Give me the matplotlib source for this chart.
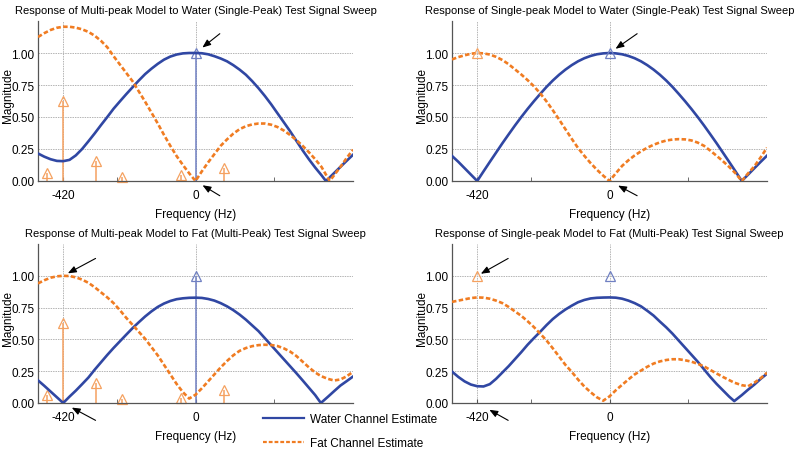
import matplotlib
matplotlib.use("Agg")
import matplotlib.pyplot as plt
from matplotlib.lines import Line2D

plt.rcParams['font.family'] = ['Liberation Sans', 'DejaVu Sans']

# ---------------- data ----------------
grid_hz = [-500, -480, -460, -440, -420, -400, -380, -360, -340, -320, -300, -280, -260, -240,
           -220, -200, -180, -160, -140, -120, -100, -80, -60, -40, -20, 0, 20, 40, 60, 80, 100,
           120, 140, 160, 180, 200, 220, 240, 260, 280, 300, 320, 340, 360, 380, 400, 420, 440,
           460, 480, 500]

# Panel 1: Multi-peak model, water test signal
p1_freq = [-500, -480, -460, -440, -420, -400, -380, -360, -340, -320, -300, -280, -260, -240,
           -220, -200, -180, -160, -140, -120, -100, -80, -60, -40, -20, 0, 20, 40, 60, 80, 100,
           120, 140, 160, 180, 200, 220, 240, 260, 280, 300, 320, 340, 360, 380, 400, 414, 420,
           426, 440, 460, 480, 500]
p1_water = [0.215, 0.19, 0.17, 0.157, 0.155, 0.165, 0.2, 0.25, 0.31, 0.372, 0.437, 0.5, 0.565,
            0.622, 0.678, 0.732, 0.785, 0.835, 0.877, 0.915, 0.948, 0.972, 0.988, 0.997, 1.0,
            1.0, 0.998, 0.99, 0.975, 0.957, 0.935, 0.905, 0.87, 0.83, 0.78, 0.725, 0.665, 0.6,
            0.53, 0.46, 0.39, 0.315, 0.24, 0.17, 0.105, 0.045, 0.0, 0.014, 0.028, 0.062, 0.11,
            0.158, 0.205]
p1_fat = [1.125, 1.155, 1.18, 1.197, 1.205, 1.205, 1.198, 1.185, 1.165, 1.135, 1.095, 1.045,
          0.975, 0.91, 0.845, 0.78, 0.70, 0.62, 0.535, 0.45, 0.36, 0.275, 0.195, 0.125, 0.06,
          0.0, 0.075, 0.145, 0.21, 0.275, 0.325, 0.37, 0.405, 0.428, 0.442, 0.449, 0.449, 0.44,
          0.422, 0.395, 0.36, 0.32, 0.275, 0.225, 0.17, 0.11, 0.05, 0.025, 0.0, 0.045, 0.11,
          0.18, 0.245]

# Panel 2: Single-peak model, water test signal
p2_freq = grid_hz
p2_water = [0.196, 0.15, 0.10, 0.05, 0.0, 0.075, 0.149, 0.222, 0.295, 0.365, 0.434, 0.5, 0.563,
            0.623, 0.68, 0.735, 0.785, 0.83, 0.87, 0.905, 0.935, 0.959, 0.977, 0.99, 0.997, 1.0,
            0.997, 0.99, 0.977, 0.959, 0.935, 0.905, 0.87, 0.83, 0.785, 0.735, 0.68, 0.623,
            0.563, 0.5, 0.434, 0.365, 0.295, 0.222, 0.149, 0.075, 0.0, 0.05, 0.10, 0.15, 0.198]
p2_fat = [0.95, 0.968, 0.982, 0.994, 1.0, 0.997, 0.988, 0.97, 0.945, 0.912, 0.872, 0.832, 0.788,
          0.74, 0.685, 0.622, 0.553, 0.48, 0.405, 0.33, 0.258, 0.197, 0.14, 0.088, 0.042, 0.0,
          0.06, 0.118, 0.162, 0.2, 0.232, 0.26, 0.283, 0.302, 0.316, 0.324, 0.327, 0.325, 0.317,
          0.30, 0.275, 0.237, 0.197, 0.155, 0.11, 0.06, 0.0, 0.06, 0.115, 0.185, 0.26]

# Panel 3: Multi-peak model, fat test signal
p3_freq = [-500, -480, -460, -440, -420, -400, -380, -360, -340, -320, -300, -280, -260, -240,
           -220, -200, -180, -160, -140, -120, -100, -80, -60, -40, -20, 0, 20, 40, 60, 80, 100,
           120, 140, 160, 180, 200, 220, 240, 260, 280, 300, 320, 340, 360, 380, 398, 420, 440,
           460, 480, 500]
p3_water = [0.178, 0.135, 0.09, 0.045, 0.0, 0.05, 0.097, 0.148, 0.2, 0.262, 0.32, 0.378, 0.433,
            0.485, 0.537, 0.588, 0.635, 0.68, 0.72, 0.755, 0.782, 0.802, 0.816, 0.823, 0.827,
            0.828, 0.826, 0.818, 0.805, 0.785, 0.76, 0.73, 0.695, 0.655, 0.61, 0.565, 0.51,
            0.455, 0.4, 0.345, 0.29, 0.235, 0.178, 0.12, 0.062, 0.0, 0.048, 0.093, 0.137, 0.172,
            0.208]
p3_fat = [0.94, 0.965, 0.985, 0.996, 1.0, 0.998, 0.988, 0.97, 0.945, 0.91, 0.87, 0.83, 0.785,
          0.73, 0.67, 0.615, 0.56, 0.505, 0.44, 0.375, 0.30, 0.225, 0.15, 0.085, 0.035, 0.065,
          0.115, 0.17, 0.225, 0.28, 0.33, 0.375, 0.41, 0.432, 0.447, 0.455, 0.458, 0.456, 0.448,
          0.43, 0.405, 0.37, 0.325, 0.28, 0.24, 0.212, 0.19, 0.177, 0.185, 0.21, 0.245]

# Panel 4: Single-peak model, fat test signal
p4_freq = [-500, -480, -460, -440, -420, -400, -380, -360, -340, -320, -300, -280, -260, -240,
           -220, -200, -180, -160, -140, -120, -100, -80, -60, -40, -20, 0, 20, 40, 60, 80, 100,
           120, 140, 160, 180, 200, 220, 240, 260, 280, 300, 320, 340, 360, 380, 396, 420, 440,
           460, 480, 500]
p4_water = [0.247, 0.205, 0.17, 0.145, 0.132, 0.13, 0.148, 0.19, 0.24, 0.29, 0.345, 0.40, 0.458,
            0.51, 0.56, 0.612, 0.66, 0.70, 0.735, 0.765, 0.792, 0.81, 0.822, 0.827, 0.829, 0.83,
            0.828, 0.82, 0.805, 0.785, 0.76, 0.725, 0.687, 0.64, 0.595, 0.545, 0.49, 0.435, 0.38,
            0.325, 0.265, 0.205, 0.15, 0.1, 0.05, 0.015, 0.062, 0.105, 0.145, 0.19, 0.23]
p4_fat = [0.795, 0.805, 0.815, 0.825, 0.83, 0.828, 0.82, 0.805, 0.785, 0.755, 0.72, 0.685, 0.643,
          0.597, 0.545, 0.492, 0.43, 0.365, 0.30, 0.245, 0.185, 0.13, 0.085, 0.045, 0.018, 0.052,
          0.1, 0.143, 0.185, 0.225, 0.255, 0.285, 0.31, 0.327, 0.338, 0.344, 0.344, 0.336, 0.325,
          0.308, 0.288, 0.26, 0.232, 0.205, 0.18, 0.16, 0.14, 0.132, 0.16, 0.195, 0.238]

# test-signal / model peaks
fat_peak_freq = [-470, -420, -317, -233, -46, 92]
fat_peak_amp = [0.064, 0.626, 0.156, 0.032, 0.043, 0.103]
water_peak_freq = [0]
water_peak_amp = [1.0]
single_fat_freq = [-420]
single_fat_amp = [1.0]

titles = ["Response of Multi-peak Model to Water (Single-Peak) Test Signal Sweep",
          "Response of Single-peak Model to Water (Single-Peak) Test Signal Sweep",
          "Response of Multi-peak Model to Fat (Multi-Peak) Test Signal Sweep",
          "Response of Single-peak Model to Fat (Multi-Peak) Test Signal Sweep"]
xtick_vals = [-420, 0]
xtick_labels = ["-420", "0"]
ytick_vals = [0.0, 0.25, 0.5, 0.75, 1.0]
ytick_labels = ["0.00", "0.25", "0.50", "0.75", "1.00"]
legend_labels = ["Water Channel Estimate", "Fat Channel Estimate"]

# ---------------- style ----------------
BLUE = '#3047a3'
ORANGE = '#f07c22'
STEM_BLUE = '#7080c2'
STEM_ORANGE = '#f5a160'
GRIDC = '#b4b4b4'
AXC = '#555555'
FS = 8.5
DASH = (0, (1.7, 0.9))

fig = plt.figure(figsize=(8, 4.52), dpi=100)
W, H = 800.0, 452.0
rects = [(38, 22, 353, 182), (452, 22, 767, 182), (38, 245, 353, 404), (452, 245, 767, 404)]
axes = []
for (l, t, r, b) in rects:
    axes.append(fig.add_axes([l / W, 1 - b / H, (r - l) / W, (b - t) / H]))

panels = [(p1_freq, p1_water, p1_fat), (p2_freq, p2_water, p2_fat),
          (p3_freq, p3_water, p3_fat), (p4_freq, p4_water, p4_fat)]

for i, ax in enumerate(axes):
    f, w, fa = panels[i]
    ax.set_xlim(-500, 500)
    ax.set_ylim(0, 1.25)
    for s in ['top', 'right']:
        ax.spines[s].set_visible(False)
    for s in ['left', 'bottom']:
        ax.spines[s].set_color(AXC)
        ax.spines[s].set_linewidth(0.9)
    ax.set_xticks(xtick_vals)
    ax.set_xticklabels(xtick_labels, fontsize=FS)
    ax.set_xticks([-250, 250], minor=True)
    ax.set_yticks(ytick_vals)
    ax.set_yticklabels(ytick_labels, fontsize=FS)
    ax.tick_params(axis='y', length=0, pad=2.5)
    ax.tick_params(axis='x', which='both', direction='in', length=3, color=AXC, pad=6)
    ax.grid(True, which='major', color=GRIDC, linestyle=(0, (1.5, 1)), linewidth=0.7)
    ax.set_axisbelow(True)
    ax.set_title(titles[i], fontsize=8.0, pad=5.5)
    ax.set_xlabel("Frequency (Hz)", fontsize=FS, labelpad=5)
    ax.set_ylabel("Magnitude", fontsize=FS)
    ax.yaxis.set_label_coords(-0.075, 0.54)

    if i in (0, 2):
        ax.vlines(fat_peak_freq, 0, fat_peak_amp, color=STEM_ORANGE, lw=1.1, zorder=2)
        ax.plot(fat_peak_freq, fat_peak_amp, '^', ms=7, mfc='none', mec=STEM_ORANGE, mew=0.9,
                zorder=2, clip_on=False)
        ax.vlines(water_peak_freq, 0, water_peak_amp, color=STEM_BLUE, lw=1.1, zorder=2)
        ax.plot(water_peak_freq, water_peak_amp, '^', ms=7, mfc='none', mec=STEM_BLUE, mew=0.9,
                zorder=2)
    else:
        ax.plot(single_fat_freq, single_fat_amp, '^', ms=7, mfc='none', mec=STEM_ORANGE,
                mew=0.9, zorder=4)
        ax.plot(water_peak_freq, water_peak_amp, '^', ms=7, mfc='none', mec=STEM_BLUE, mew=0.9,
                zorder=4)

    ax.plot(f, w, color=BLUE, lw=1.9, zorder=3, solid_joinstyle='round')
    ax.plot(f, fa, color=ORANGE, lw=1.9, linestyle=DASH, zorder=3)

aprops = dict(arrowstyle='-|>,head_length=0.5,head_width=0.2', color='black', lw=0.8,
              shrinkA=0)
# (axis index, target x, target y, offset pts, shrink)
arrow_specs = [
    (0, 0, 1.0, (17.5, 13.9), 6.3), (0, 0, 0.0, (17.5, -10.6), 5.9),
    (1, 0, 1.0, (19.9, 13.9), 5.3), (1, 0, 0.0, (19.9, -10.6), 7.0),
    (2, -420, 1.0, (23.3, 12.5), 3.8), (2, -420, 0.0, (23.3, -12.5), 7.0),
    (3, -420, 1.0, (22.3, 12.5), 3.0), (3, -420, 0.0, (22.3, -12.5), 10.0),
]
for (ai, xv, yv, off, shr) in arrow_specs:
    pr = dict(aprops)
    pr['shrinkB'] = shr
    axes[ai].annotate("", xy=(xv, yv), xytext=off, textcoords='offset points',
                      arrowprops=pr, annotation_clip=False, zorder=5)

handles = [Line2D([], [], color=BLUE, lw=1.6),
           Line2D([], [], color=ORANGE, lw=1.6, linestyle=DASH)]
fig.legend(handles, legend_labels, loc='upper left', bbox_to_anchor=(263 / W, 1 - 414 / H),
           frameon=False, fontsize=FS, handlelength=3.5, handletextpad=0.5,
           labelspacing=1.05, borderpad=0, borderaxespad=0)

fig.savefig("out.png", dpi=100)
